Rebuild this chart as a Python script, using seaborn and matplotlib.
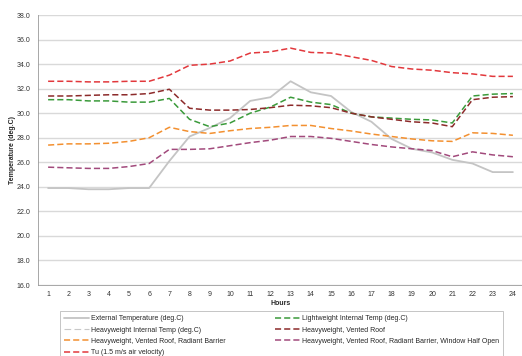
import matplotlib
matplotlib.use("Agg")
import matplotlib.pyplot as plt
import seaborn as sns
import numpy as np

# data (deg.C per hour)
hours = list(range(1, 25))

external = [23.9, 23.9, 23.8, 23.8, 23.9, 23.9, 26.1, 28.1, 28.8, 29.6, 31.0, 31.3,
            32.6, 31.7, 31.4, 30.1, 29.3, 27.9, 27.1, 26.8, 26.2, 25.9, 25.2, 25.2]
lightweight = [31.1, 31.1, 31.0, 31.0, 30.9, 30.9, 31.2, 29.5, 28.9, 29.2, 30.0, 30.5,
               31.3, 30.9, 30.7, 30.0, 29.7, 29.6, 29.5, 29.45, 29.2, 31.4, 31.55, 31.6]
heavy_internal = []   # in the legend, no visible line in the chart
heavy_vented = [31.4, 31.4, 31.45, 31.5, 31.5, 31.6, 31.95, 30.4, 30.25, 30.25, 30.3, 30.45,
                30.65, 30.6, 30.45, 30.0, 29.7, 29.5, 29.3, 29.2, 28.9, 31.1, 31.3, 31.35]
heavy_vr_rb = [27.4, 27.5, 27.5, 27.55, 27.7, 28.0, 28.85, 28.5, 28.35, 28.57, 28.75, 28.85,
               29.0, 29.0, 28.75, 28.55, 28.3, 28.1, 27.9, 27.75, 27.7, 28.4, 28.35, 28.2]
heavy_vr_rb_win = [25.6, 25.55, 25.5, 25.5, 25.65, 25.9, 27.05, 27.05, 27.1, 27.35, 27.6, 27.8,
                   28.1, 28.1, 27.95, 27.7, 27.45, 27.25, 27.1, 26.95, 26.45, 26.85, 26.6, 26.45]
tu = [32.6, 32.6, 32.55, 32.55, 32.6, 32.6, 33.1, 33.9, 34.0, 34.25, 34.9, 35.0,
      35.3, 34.95, 34.9, 34.6, 34.3, 33.8, 33.6, 33.5, 33.3, 33.2, 33.0, 33.0]

labels = ["External Temperature (deg.C)",
          "Lightweight Internal Temp (deg.C)",
          "Heavyweight Internal Temp (deg.C)",
          "Heavyweight, Vented Roof",
          "Heavyweight, Vented Roof, Radiant Barrier",
          "Heavyweight, Vented Roof, Radiant Barrier, Window Half Open",
          "Tu (1.5 m/s air velocity)"]

sns.set_style("white")
plt.rcParams['font.family'] = ['Liberation Sans', 'DejaVu Sans']

fig = plt.figure(figsize=(5.22, 3.56), dpi=100)
ax = fig.add_axes([38 / 522, 1 - 285 / 356, 485 / 522, 270 / 356])

dash = (4, 2)
sns.lineplot(x=hours, y=external, ax=ax, color="#c4c4c4", lw=1.3, label=labels[0])
sns.lineplot(x=hours, y=lightweight, ax=ax, color="#3a9a3a", lw=1.1, label=labels[1])
ax.plot(hours[:len(heavy_internal)], heavy_internal, color="#c8c8c8", lw=0.8,
        dashes=(6, 3), label=labels[2])
sns.lineplot(x=hours, y=heavy_vented, ax=ax, color="#8c2a2a", lw=1.1, label=labels[3])
sns.lineplot(x=hours, y=heavy_vr_rb, ax=ax, color="#f39030", lw=1.1, label=labels[4])
sns.lineplot(x=hours, y=heavy_vr_rb_win, ax=ax, color="#a24a7c", lw=1.1, label=labels[5])
sns.lineplot(x=hours, y=tu, ax=ax, color="#e2383c", lw=1.1, label=labels[6])

lines = ax.get_lines()
for ln in lines[1:]:
    if ln.get_label() != labels[2]:
        ln.set_dashes(dash)

ax.set_xlim(0.5, 24.5)
ax.set_ylim(16, 38)
ax.set_yticks(np.arange(16, 38.1, 2))
ax.set_yticklabels([f"{v:.1f}" for v in np.arange(16, 38.1, 2)])
ax.set_xticks(hours)
ax.set_xticks(np.arange(0.5, 25, 1), minor=True)
ax.tick_params(axis="x", which="major", length=0, labelsize=5, colors="#333333", pad=4)
ax.tick_params(axis="x", which="minor", length=2.5, width=0.5, color="#888888")
ax.tick_params(axis="y", length=2.5, width=0.5, color="#888888", labelsize=5,
               labelcolor="#333333", pad=3)

ax.grid(axis="y", color="#d9d9d9", lw=1.0)
ax.grid(axis="x", visible=False)
for s in ["top", "right"]:
    ax.spines[s].set_visible(False)
for s in ["left", "bottom"]:
    ax.spines[s].set_color("#999999")
    ax.spines[s].set_linewidth(0.6)

ax.set_xlabel("Hours", fontsize=5, fontweight="bold", labelpad=2)
ax.set_ylabel("Temperature (deg.C)", fontsize=5, fontweight="bold", labelpad=0)

# legend laid out row by row like the original
handles, lbls = ax.get_legend_handles_labels()
order = [0, 2, 4, 6, 1, 3, 5]
ax.get_legend().remove()
leg = fig.legend([handles[i] for i in order], [lbls[i] for i in order],
                 loc="upper left", bbox_to_anchor=(57 / 522, 1 - 308 / 356),
                 ncol=2, fontsize=5, frameon=True, fancybox=False,
                 edgecolor="#aaaaaa", handlelength=3.6, handletextpad=0.2,
                 columnspacing=7.2, labelspacing=0.62, borderpad=0.55)
leg.get_frame().set_linewidth(0.6)

fig.savefig("out.png", dpi=100)
